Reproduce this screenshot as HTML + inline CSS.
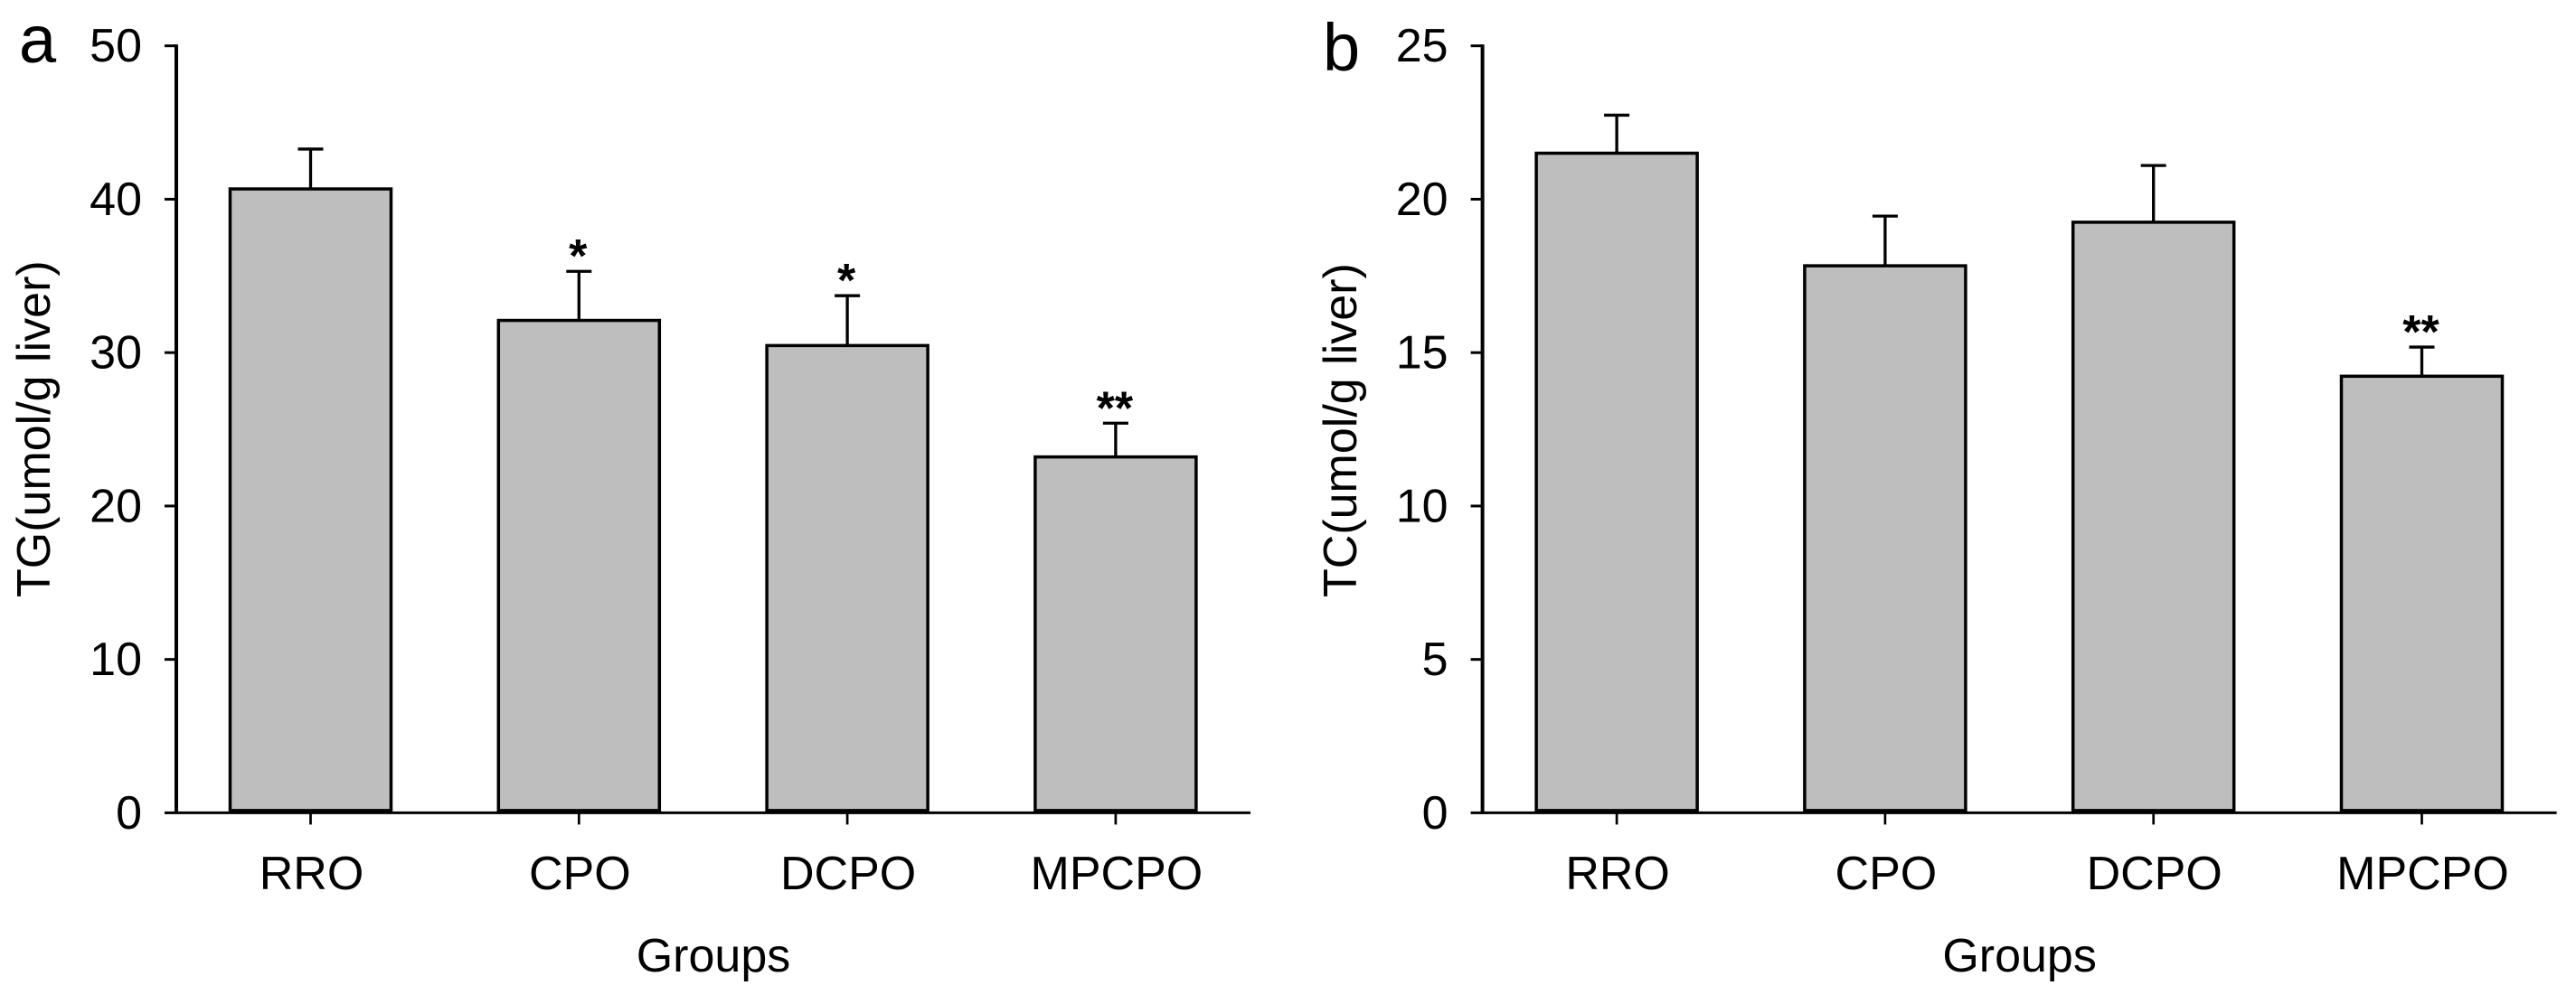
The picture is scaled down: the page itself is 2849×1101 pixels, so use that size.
<!DOCTYPE html>
<html lang="en">
<head>
<meta charset="utf-8">
<title>TG and TC liver content by group</title>
<style>
  html, body { margin: 0; padding: 0; background: #fff; }
  svg { display: block; }
  text { font-family: "Liberation Sans", Arial, sans-serif; fill: #000; }
</style>
</head>
<body>
<svg id="chart" xmlns="http://www.w3.org/2000/svg" width="2849" height="1101" viewBox="0 0 2849 1101"></svg>
<script>
const categories = ['RRO', 'CPO', 'DCPO', 'MPCPO'];
const tgValues = [40.67, 32.1, 30.46, 23.2];
const tgErrors = [2.6, 3.2, 3.25, 2.2];
const tgMarks = ['', '*', '*', '**'];
const tgTicks = [0, 10, 20, 30, 40, 50];
const tcValues = [21.5, 17.83, 19.25, 14.23];
const tcErrors = [1.24, 1.62, 1.85, 0.95];
const tcMarks = ['', '', '', '**'];
const tcTicks = [0, 5, 10, 15, 20, 25];

const svg = document.getElementById('chart');
const NS = 'http://www.w3.org/2000/svg';

function make(tag, attrs, parent) {
  const el = document.createElementNS(NS, tag);
  for (const k in attrs) el.setAttribute(k, attrs[k]);
  parent.appendChild(el);
  return el;
}

function drawPanel(cfg) {
  const g = make('g', {}, svg);
  
  

  const x0 = cfg.axisX;
  const y0 = 899.4;
  const yTop = 50.7;
  const yMax = cfg.ticks[cfg.ticks.length - 1];
  const yScale = v => y0 - (v / yMax) * (y0 - yTop);
  const xScale = i => x0 + 148.5 + i * 296.8;
  const barW = 178;

  const letter = make('text', { x: cfg.letterX, y: cfg.letterY, 'font-size': 74 }, g);
  letter.textContent = cfg.letter;
  
  

  categories.forEach((name, i) => {
    const v = cfg.values[i];
    const e = cfg.errors[i];
    const cx = xScale(i);

    const errLine = make('line', { x1: cx, x2: cx, y1: yScale(v), y2: yScale(v + e), stroke: '#000', 'stroke-width': 3.3 }, g);
    
    

    const errCap = make('line', { x1: cx - 14, x2: cx + 14, y1: yScale(v + e), y2: yScale(v + e), stroke: '#000', 'stroke-width': 3.3 }, g);
    
    

    const bar = make('rect', { x: cx - barW / 2, y: yScale(v), width: barW, height: y0 - 2.5 - yScale(v), fill: '#bebebe', stroke: '#000', 'stroke-width': 3.5 }, g);
    
    

    const tick = make('line', { x1: cx, x2: cx, y1: y0, y2: y0 + 13, stroke: '#000', 'stroke-width': 2.7 }, g);
    
    

    const label = make('text', { x: cx + 1, y: 984, 'font-size': 52, 'text-anchor': 'middle' }, g);
    label.textContent = name;
    
    

    if (cfg.marks[i]) {
      const mark = make('text', { x: cx - 1, y: yScale(v + e) + 1, 'font-size': 52, 'font-weight': 'bold', 'text-anchor': 'middle' }, g);
      mark.textContent = cfg.marks[i];
      
      
    }
  });

  const yAxis = make('line', { x1: x0, x2: x0, y1: yTop - 1.4, y2: y0 + 1.4, stroke: '#000', 'stroke-width': 4 }, g);
  
  

  const xAxis = make('line', { x1: x0, x2: x0 + 1188, y1: y0, y2: y0, stroke: '#000', 'stroke-width': 3 }, g);
  
  

  cfg.ticks.forEach(t => {
    const tick = make('line', { x1: x0 - 13, x2: x0, y1: yScale(t), y2: yScale(t), stroke: '#000', 'stroke-width': 3 }, g);
    
    

    const label = make('text', { x: x0 - 38, y: yScale(t) + 17.5, 'font-size': 52, 'text-anchor': 'end' }, g);
    label.textContent = t;
    
    
  });

  const yTitle = make('text', { x: 0, y: 0, 'font-size': 52, transform: 'translate(' + cfg.titleX + ' 661) rotate(-90)' }, g);
  yTitle.textContent = cfg.yTitle;
  
  

  const xTitle = make('text', { x: x0 + 594, y: 1075, 'font-size': 52, 'text-anchor': 'middle' }, g);
  xTitle.textContent = 'Groups';
  
  
}

drawPanel({ key: 'tg', letter: 'a', letterX: 21, letterY: 69, axisX: 195, titleX: 55, yTitle: 'TG(umol/g liver)', values: tgValues, errors: tgErrors, marks: tgMarks, ticks: tgTicks });
drawPanel({ key: 'tc', letter: 'b', letterX: 1463, letterY: 78, axisX: 1639.6, titleX: 1500, yTitle: 'TC(umol/g liver)', values: tcValues, errors: tcErrors, marks: tcMarks, ticks: tcTicks });
</script>
</body>
</html>
